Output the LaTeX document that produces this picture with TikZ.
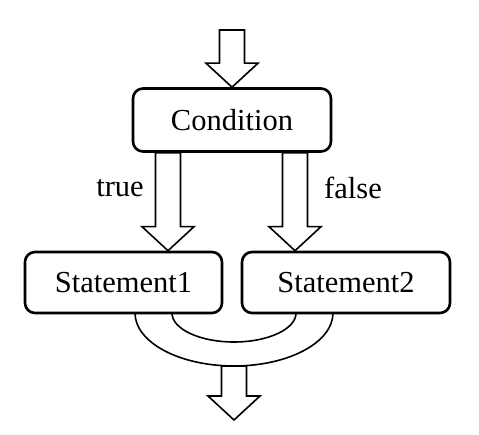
\documentclass[tikz,border=0pt]{standalone}
\usepackage{fontspec}
\setmainfont{Liberation Serif}
\usetikzlibrary{calc}
\tikzset{
  box/.style={draw, line width=2.6pt, rounded corners=10pt, inner sep=0pt, font=\fontsize{30.5}{36}\selectfont},
  blockarrow/.style={draw, line width=1.6pt, fill=white, line join=miter},
  lbl/.style={font=\fontsize{30.5}{36}\selectfont, inner sep=0pt},
  mergearc/.style={draw, line width=1.6pt}
}
\newcommand\blockarrow[2]{%
  \path[blockarrow] let \p1=(#1), \p2=(#2) in
    (\x1-12.5pt,\y1) -- (\x1-12.5pt,\y2+24pt) -- (\x1-26pt,\y2+24pt) -- (\x1,\y2)
    -- (\x1+26pt,\y2+24pt) -- (\x1+12.5pt,\y2+24pt) -- (\x1+12.5pt,\y1) -- cycle;}
\begin{document}
\begin{tikzpicture}[x=1pt,y=1pt]
\useasboundingbox (0,0) rectangle (479,434);
\node[box, minimum width=198pt, minimum height=63pt] (cond) at (232,314) {Condition};
\node[box, minimum width=197pt, minimum height=61pt] (s1) at (123.5,151.5) {Statement1};
\node[box, minimum width=208pt, minimum height=61pt] (s2) at (346,151.5) {Statement2};
\coordinate (in) at (232,404);
\blockarrow{in}{cond.north}
\coordinate (t0) at ($(cond.south)+(-64,0)$);
\coordinate (t1) at (t0 |- s1.north);
\coordinate (f0) at ($(cond.south)+(63,0)$);
\coordinate (f1) at (f0 |- s2.north);
\blockarrow{t0}{t1}
\blockarrow{f0}{f1}
\node[lbl] (tl) at (120,246) {true};
\node[lbl] (fl) at (353,246) {false};
\draw[mergearc] (135,121) arc[start angle=180, end angle=360, x radius=99pt, y radius=53pt];
\draw[mergearc] (172,121) arc[start angle=180, end angle=360, x radius=62pt, y radius=29pt];
\coordinate (merge) at (234,68);
\coordinate (out) at (234,14);
\blockarrow{merge}{out}
\end{tikzpicture}
\end{document}
